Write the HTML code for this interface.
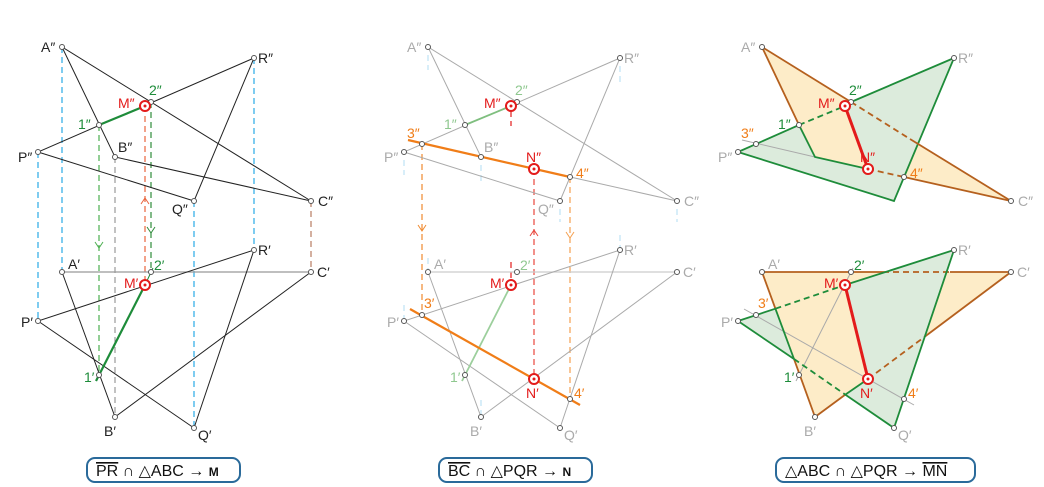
<!DOCTYPE html>
<html><head><meta charset="utf-8"><style>
html,body{margin:0;padding:0;background:#fff}
svg{display:block}
text{font-family:"Liberation Sans","DejaVu Sans",sans-serif;font-size:14px}
.v{fill:#fff;stroke:#555;stroke-width:1}
.k{stroke:#222;stroke-width:1;fill:none}
.g{stroke:#aaa;stroke-width:1;fill:none}
.bl{stroke:#3ab0e8;stroke-width:1.3;stroke-dasharray:6,4;fill:none}
.bls{stroke:#bfe3f5;stroke-width:1.2;stroke-dasharray:6,4;fill:none}
.lab{font-size:16px}
.ov{text-decoration:overline}
</style></head><body>
<svg width="1044" height="487" viewBox="0 0 1044 487" xmlns="http://www.w3.org/2000/svg">
<defs>
<g id="mk"><circle r="5" fill="#fff" stroke="#e31b1b" stroke-width="2"/><circle r="1.5" fill="#e31b1b"/></g>
</defs>

<!-- PANEL 1 -->
<g>
<line class="bl" x1="62" y1="47" x2="62" y2="272"/>
<line class="bl" x1="38" y1="152" x2="38" y2="321"/>
<line class="bl" x1="115" y1="157" x2="115" y2="417" style="stroke:#666;stroke-width:0.8"/>
<line class="bl" x1="194" y1="201" x2="194" y2="428"/>
<line class="bl" x1="254" y1="58" x2="254" y2="250"/>
<line class="bl" x1="311" y1="201" x2="311" y2="272" style="stroke:#a0522d;stroke-width:0.9"/>
<line x1="99" y1="125" x2="99" y2="375" stroke="#4caf50" stroke-width="1.2" stroke-dasharray="6,4"/>
<line x1="151" y1="102" x2="151" y2="272" stroke="#2e8b3a" stroke-width="1.2" stroke-dasharray="6,4"/>
<line x1="145" y1="106" x2="145" y2="285" stroke="#e8643c" stroke-width="1.2" stroke-dasharray="6,4"/>
<path d="M95,242 L99,248 L103,242" stroke="#4caf50" fill="none"/>
<path d="M147,227 L151,233 L155,227" stroke="#2e8b3a" fill="none"/>
<path d="M141,204 L145,198 L149,204" stroke="#e8643c" fill="none"/>
<polygon class="k" points="62,47 115,157 311,201"/>
<polygon class="k" points="38,152 194,201 254,58"/>
<line x1="99" y1="125" x2="145" y2="106" stroke="#1e8c3a" stroke-width="2.2"/>
<line x1="62" y1="272" x2="311" y2="272" stroke="#999" stroke-width="1.2"/>
<polyline class="k" points="62,272 115,417 311,272"/>
<polygon class="k" points="38,321 194,428 254,250"/>
<line x1="96" y1="381" x2="145" y2="285" stroke="#1e8c3a" stroke-width="2.2"/>
<line x1="145" y1="285" x2="153" y2="268" stroke="#1e8c3a" stroke-width="1"/>
<g>
<circle class="v" cx="62" cy="47" r="2.5"/><circle class="v" cx="115" cy="157" r="2.5"/><circle class="v" cx="311" cy="201" r="2.5"/>
<circle class="v" cx="38" cy="152" r="2.5"/><circle class="v" cx="194" cy="201" r="2.5"/><circle class="v" cx="254" cy="58" r="2.5"/>
<circle class="v" cx="99" cy="125" r="2.5"/><circle class="v" cx="151" cy="102" r="2.5"/>
<circle class="v" cx="62" cy="272" r="2.5"/><circle class="v" cx="115" cy="417" r="2.5"/><circle class="v" cx="311" cy="272" r="2.5"/>
<circle class="v" cx="38" cy="321" r="2.5"/><circle class="v" cx="194" cy="428" r="2.5"/><circle class="v" cx="254" cy="250" r="2.5"/>
<circle class="v" cx="99" cy="375" r="2.5"/><circle class="v" cx="151" cy="272" r="2.5"/>
</g>
<use href="#mk" x="145" y="106"/><use href="#mk" x="145" y="285"/>
<g fill="#222">
<text x="41" y="52">A″</text><text x="258" y="63">R″</text><text x="118" y="152">B″</text>
<text x="18" y="162">P″</text><text x="172" y="214">Q″</text><text x="318" y="206">C″</text>
<text x="68" y="269">A′</text><text x="258" y="255">R′</text><text x="317" y="277">C′</text>
<text x="21" y="327">P′</text><text x="104" y="436">B′</text><text x="198" y="440">Q′</text>
</g>
<g fill="#1e8c3a"><text x="78" y="129">1″</text><text x="149" y="95">2″</text><text x="84" y="382">1′</text><text x="154" y="270">2′</text></g>
<g fill="#e31b1b"><text x="118" y="108">M″</text><text x="124" y="288">M′</text></g>
</g>

<!-- PANEL 2 -->
<g transform="translate(366,0)">
<g class="bls">
<line x1="62" y1="55" x2="62" y2="70"/><line x1="62" y1="258" x2="62" y2="270"/>
<line x1="115" y1="165" x2="115" y2="185"/><line x1="115" y1="400" x2="115" y2="415"/>
<line x1="254" y1="66" x2="254" y2="85"/><line x1="254" y1="235" x2="254" y2="248"/>
<line x1="38" y1="160" x2="38" y2="175"/><line x1="38" y1="305" x2="38" y2="318"/>
<line x1="311" y1="209" x2="311" y2="222"/><line x1="194" y1="209" x2="194" y2="222"/>
</g>
<line x1="56" y1="144" x2="56" y2="315" stroke="#f08a30" stroke-width="1.2" stroke-dasharray="6,4"/>
<line x1="204" y1="177" x2="204" y2="399" stroke="#f5a050" stroke-width="1.2" stroke-dasharray="6,4"/>
<line x1="168" y1="169" x2="168" y2="379" stroke="#e8463c" stroke-width="1.2" stroke-dasharray="6,4"/>
<line x1="145" y1="111" x2="145" y2="126" stroke="#e31b1b" stroke-width="1.2" stroke-dasharray="6,4"/>
<line x1="145" y1="262" x2="145" y2="280" stroke="#e31b1b" stroke-width="1.2" stroke-dasharray="6,4"/>
<path d="M52,225 L56,231 L60,225" stroke="#f08a30" fill="none"/>
<path d="M200,232 L204,238 L208,232" stroke="#f5a050" fill="none"/>
<path d="M164,236 L168,230 L172,236" stroke="#e8463c" fill="none"/>
<polygon class="g" points="62,47 115,157 311,201"/>
<polygon class="g" points="38,152 194,201 254,58"/>
<line x1="62" y1="272" x2="311" y2="272" stroke="#ccc" stroke-width="1.2"/>
<polyline class="g" points="62,272 115,417 311,272"/>
<polygon class="g" points="38,321 194,428 254,250"/>
<line x1="99" y1="125" x2="145" y2="106" stroke="#7fbf7f" stroke-width="1.8"/>
<line x1="96" y1="381" x2="145" y2="285" stroke="#9ccf9c" stroke-width="1.8"/>
<line x1="42" y1="140" x2="204" y2="177" stroke="#f07d18" stroke-width="2.2"/>
<line x1="44" y1="309" x2="214" y2="405" stroke="#f07d18" stroke-width="2.2"/>
<g>
<circle class="v" cx="62" cy="47" r="2.5"/><circle class="v" cx="115" cy="157" r="2.5"/><circle class="v" cx="311" cy="201" r="2.5"/>
<circle class="v" cx="38" cy="152" r="2.5"/><circle class="v" cx="194" cy="201" r="2.5"/><circle class="v" cx="254" cy="58" r="2.5"/>
<circle class="v" cx="99" cy="125" r="2.5"/><circle class="v" cx="151" cy="102" r="2.5"/>
<circle class="v" cx="56" cy="144" r="2.5"/><circle class="v" cx="204" cy="177" r="2.5"/>
<circle class="v" cx="62" cy="272" r="2.5"/><circle class="v" cx="115" cy="417" r="2.5"/><circle class="v" cx="311" cy="272" r="2.5"/>
<circle class="v" cx="38" cy="321" r="2.5"/><circle class="v" cx="194" cy="428" r="2.5"/><circle class="v" cx="254" cy="250" r="2.5"/>
<circle class="v" cx="99" cy="375" r="2.5"/><circle class="v" cx="151" cy="272" r="2.5"/>
<circle class="v" cx="56" cy="315" r="2.5"/><circle class="v" cx="204" cy="399" r="2.5"/>
</g>
<use href="#mk" x="145" y="106"/><use href="#mk" x="145" y="285"/>
<use href="#mk" x="168" y="169"/><use href="#mk" x="168" y="379"/>
<g fill="#aaa">
<text x="41" y="52">A″</text><text x="258" y="63">R″</text><text x="118" y="152">B″</text>
<text x="18" y="162">P″</text><text x="172" y="214">Q″</text><text x="318" y="206">C″</text>
<text x="68" y="269">A′</text><text x="258" y="255">R′</text><text x="317" y="277">C′</text>
<text x="21" y="327">P′</text><text x="104" y="436">B′</text><text x="198" y="440">Q′</text>
</g>
<g fill="#8fc88f"><text x="78" y="129">1″</text><text x="149" y="95">2″</text><text x="84" y="382">1′</text><text x="154" y="270">2′</text></g>
<g fill="#f07d18"><text x="41" y="138">3″</text><text x="210" y="178">4″</text><text x="58" y="308">3′</text><text x="208" y="398">4′</text></g>
<g fill="#e31b1b"><text x="118" y="108">M″</text><text x="124" y="288">M′</text><text x="160" y="162">N″</text><text x="160" y="398">N′</text></g>
</g>

<!-- PANEL 3 -->
<g transform="translate(700,0)">
<polygon points="62,47 115,157 311,201" fill="#fdecc8"/>
<polygon points="38,152 194,201 254,58" fill="#dcebdc"/>
<polygon points="99,125 145,106 168,169 115,157" fill="#fdecc8"/>
<line x1="42" y1="140" x2="115" y2="157" stroke="#aaa" stroke-width="1"/>
<polyline points="38,152 194,201 254,58 151,102" fill="none" stroke="#1e8c3a" stroke-width="1.8"/>
<line x1="38" y1="152" x2="99" y2="125" stroke="#1e8c3a" stroke-width="1.8"/>
<line x1="99" y1="125" x2="145" y2="106" stroke="#1e8c3a" stroke-width="1.8" stroke-dasharray="6,4"/>
<polyline points="99,125 115,157 168,169" fill="none" stroke="#1e8c3a" stroke-width="1.8"/>
<polyline points="62,47 99,125" fill="none" stroke="#b5601e" stroke-width="1.8"/>
<line x1="62" y1="47" x2="151" y2="102" stroke="#b5601e" stroke-width="1.8"/>
<line x1="151" y1="102" x2="210" y2="139" stroke="#b5601e" stroke-width="1.8" stroke-dasharray="6,4"/>
<line x1="210" y1="139" x2="311" y2="201" stroke="#b5601e" stroke-width="1.8"/>
<line x1="168" y1="169" x2="204" y2="177" stroke="#b5601e" stroke-width="1.8" stroke-dasharray="6,4"/>
<line x1="204" y1="177" x2="311" y2="201" stroke="#b5601e" stroke-width="1.8"/>
<line x1="145" y1="106" x2="168" y2="169" stroke="#e31b1b" stroke-width="3"/>
<!-- bottom -->
<polygon points="62,272 115,417 311,272" fill="#fdecc8"/>
<polygon points="38,321 194,428 254,250" fill="#dcebdc"/>
<polygon points="145,285 75.4,308.7 94,359 145.3,394.6 168,379" fill="#fdecc8"/>
<line x1="44" y1="309" x2="214" y2="405" stroke="#aaa" stroke-width="1"/>
<line x1="96" y1="381" x2="153" y2="268" stroke="#aaa" stroke-width="1"/>
<line x1="62" y1="272" x2="183" y2="272" stroke="#b5601e" stroke-width="1.8"/>
<line x1="183" y1="272" x2="250" y2="272" stroke="#b5601e" stroke-width="1.8" stroke-dasharray="6,4"/>
<line x1="250" y1="272" x2="311" y2="272" stroke="#b5601e" stroke-width="1.8"/>
<line x1="62" y1="272" x2="75.4" y2="308.7" stroke="#b5601e" stroke-width="1.8"/>
<line x1="75.4" y1="308.7" x2="94" y2="359" stroke="#1e8c3a" stroke-width="1.8"/>
<line x1="94" y1="359" x2="115" y2="417" stroke="#b5601e" stroke-width="1.8"/>
<line x1="115" y1="417" x2="145.3" y2="394.6" stroke="#b5601e" stroke-width="1.8"/>
<line x1="145.3" y1="394.6" x2="168" y2="379" stroke="#1e8c3a" stroke-width="1.8"/>
<line x1="168" y1="379" x2="227" y2="335" stroke="#b5601e" stroke-width="1.8" stroke-dasharray="6,4"/>
<line x1="227" y1="335" x2="311" y2="272" stroke="#b5601e" stroke-width="1.8"/>
<line x1="38" y1="321" x2="75.4" y2="308.7" stroke="#1e8c3a" stroke-width="1.8"/>
<line x1="75.4" y1="308.7" x2="145" y2="285" stroke="#1e8c3a" stroke-width="1.8" stroke-dasharray="6,4"/>
<line x1="145" y1="285" x2="254" y2="250" stroke="#1e8c3a" stroke-width="1.8"/>
<line x1="38" y1="321" x2="94" y2="359" stroke="#1e8c3a" stroke-width="1.8"/>
<line x1="94" y1="359" x2="145.3" y2="394.6" stroke="#1e8c3a" stroke-width="1.8" stroke-dasharray="6,4"/>
<line x1="145.3" y1="394.6" x2="194" y2="428" stroke="#1e8c3a" stroke-width="1.8"/>
<line x1="194" y1="428" x2="254" y2="250" stroke="#1e8c3a" stroke-width="1.8"/>
<line x1="145" y1="285" x2="168" y2="379" stroke="#e31b1b" stroke-width="3"/>
<g>
<circle class="v" cx="62" cy="47" r="2.5"/><circle class="v" cx="311" cy="201" r="2.5"/>
<circle class="v" cx="38" cy="152" r="2.5"/><circle class="v" cx="254" cy="58" r="2.5"/>
<circle class="v" cx="99" cy="125" r="2.5"/><circle class="v" cx="151" cy="102" r="2.5"/>
<circle class="v" cx="56" cy="144" r="2.5"/><circle class="v" cx="204" cy="177" r="2.5"/>
<circle class="v" cx="62" cy="272" r="2.5"/><circle class="v" cx="115" cy="417" r="2.5"/><circle class="v" cx="311" cy="272" r="2.5"/>
<circle class="v" cx="38" cy="321" r="2.5"/><circle class="v" cx="194" cy="428" r="2.5"/><circle class="v" cx="254" cy="250" r="2.5"/>
<circle class="v" cx="99" cy="375" r="2.5"/><circle class="v" cx="151" cy="272" r="2.5"/>
<circle class="v" cx="56" cy="315" r="2.5"/><circle class="v" cx="204" cy="399" r="2.5"/>
</g>
<use href="#mk" x="145" y="106"/><use href="#mk" x="145" y="285"/>
<use href="#mk" x="168" y="169"/><use href="#mk" x="168" y="379"/>
<g fill="#aaa">
<text x="41" y="52">A″</text><text x="258" y="63">R″</text>
<text x="18" y="162">P″</text><text x="318" y="206">C″</text>
<text x="68" y="269">A′</text><text x="258" y="255">R′</text><text x="317" y="277">C′</text>
<text x="21" y="327">P′</text><text x="104" y="436">B′</text><text x="198" y="440">Q′</text>
</g>
<g fill="#1e8c3a"><text x="78" y="129">1″</text><text x="149" y="95">2″</text><text x="84" y="382">1′</text><text x="154" y="270">2′</text></g>
<g fill="#f07d18"><text x="41" y="138">3″</text><text x="210" y="178">4″</text><text x="58" y="308">3′</text><text x="208" y="398">4′</text></g>
<g fill="#e31b1b"><text x="118" y="108">M″</text><text x="124" y="288">M′</text><text x="160" y="162">N″</text><text x="160" y="398">N′</text></g>
</g>

<!-- LABEL BOXES -->
<g fill="#fff" stroke="#2a6a9a" stroke-width="2">
<rect x="87" y="458" width="153" height="24" rx="8"/>
<rect x="439" y="458" width="153" height="24" rx="8"/>
<rect x="776" y="458" width="199" height="24" rx="8"/>
</g>
<g fill="#111">
<text x="96" y="476" class="lab"><tspan class="ov">PR</tspan> ∩ △ABC → <tspan font-size="12" font-weight="bold">M</tspan></text>
<text x="448" y="476" class="lab"><tspan class="ov">BC</tspan> ∩ △PQR → <tspan font-size="12" font-weight="bold">N</tspan></text>
<text x="785" y="476" class="lab">△ABC ∩ △PQR → <tspan class="ov">MN</tspan></text>
</g>
</svg>
</body></html>
